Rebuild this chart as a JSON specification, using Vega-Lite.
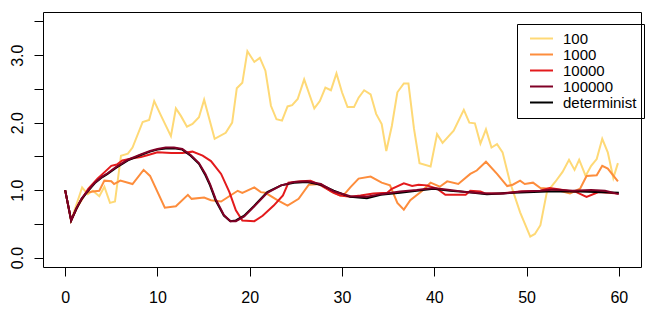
{
  "$schema": "https://vega.github.io/schema/vega-lite/v6.json",
  "width": 598,
  "height": 255,
  "autosize": {"type": "none"},
  "padding": {"left": 43, "top": 12, "right": 10, "bottom": 48},
  "background": "white",
  "config": {
    "view": {"stroke": "black", "strokeWidth": 1},
    "axis": {"domain": false, "grid": false, "tickColor": "black", "tickSize": 9, "tickWidth": 1, "labelColor": "black", "labelFont": "Liberation Sans", "labelFontSize": 16, "title": null},
    "legend": {"labelFont": "Liberation Sans", "labelFontSize": 15, "labelColor": "black", "labelLimit": 200}
  },
  "data": {"values": [
    {"n":"100","t":0,"v":1.0},{"n":"100","t":0.65,"v":0.55},{"n":"100","t":1.84,"v":1.04},{"n":"100","t":2.45,"v":0.94},{"n":"100","t":3.0,"v":0.99},{"n":"100","t":3.7,"v":0.91},{"n":"100","t":4.25,"v":1.05},{"n":"100","t":4.86,"v":0.81},{"n":"100","t":5.4,"v":0.83},{"n":"100","t":6.05,"v":1.51},{"n":"100","t":6.8,"v":1.54},{"n":"100","t":7.3,"v":1.63},{"n":"100","t":8.4,"v":2.01},{"n":"100","t":9.1,"v":2.04},{"n":"100","t":9.65,"v":2.32},{"n":"100","t":10.4,"v":2.10},{"n":"100","t":11.46,"v":1.80},{"n":"100","t":12.0,"v":2.21},{"n":"100","t":12.54,"v":2.10},{"n":"100","t":13.2,"v":1.94},{"n":"100","t":13.8,"v":1.98},{"n":"100","t":14.5,"v":2.08},{"n":"100","t":15.06,"v":2.34},{"n":"100","t":16.2,"v":1.76},{"n":"100","t":17.4,"v":1.85},{"n":"100","t":18.1,"v":2.0},{"n":"100","t":18.6,"v":2.51},{"n":"100","t":19.2,"v":2.59},{"n":"100","t":19.75,"v":3.06},{"n":"100","t":20.5,"v":2.90},{"n":"100","t":21.1,"v":2.96},{"n":"100","t":21.7,"v":2.77},{"n":"100","t":22.3,"v":2.25},{"n":"100","t":22.9,"v":2.05},{"n":"100","t":23.5,"v":2.03},{"n":"100","t":24.1,"v":2.24},{"n":"100","t":24.6,"v":2.26},{"n":"100","t":25.2,"v":2.35},{"n":"100","t":25.9,"v":2.64},{"n":"100","t":27.0,"v":2.21},{"n":"100","t":27.6,"v":2.32},{"n":"100","t":28.2,"v":2.52},{"n":"100","t":28.8,"v":2.48},{"n":"100","t":29.4,"v":2.73},{"n":"100","t":30.0,"v":2.45},{"n":"100","t":30.6,"v":2.23},{"n":"100","t":31.3,"v":2.23},{"n":"100","t":31.8,"v":2.37},{"n":"100","t":32.4,"v":2.48},{"n":"100","t":33.1,"v":2.42},{"n":"100","t":33.7,"v":2.13},{"n":"100","t":34.3,"v":1.98},{"n":"100","t":34.8,"v":1.58},{"n":"100","t":35.4,"v":1.95},{"n":"100","t":36.0,"v":2.45},{"n":"100","t":36.7,"v":2.58},{"n":"100","t":37.2,"v":2.58},{"n":"100","t":37.8,"v":1.91},{"n":"100","t":38.4,"v":1.40},{"n":"100","t":39.6,"v":1.35},{"n":"100","t":40.3,"v":1.83},{"n":"100","t":40.9,"v":1.70},{"n":"100","t":42.1,"v":1.88},{"n":"100","t":43.2,"v":2.19},{"n":"100","t":43.8,"v":2.0},{"n":"100","t":44.4,"v":1.99},{"n":"100","t":45.0,"v":1.69},{"n":"100","t":45.6,"v":1.90},{"n":"100","t":46.2,"v":1.63},{"n":"100","t":46.8,"v":1.68},{"n":"100","t":47.4,"v":1.56},{"n":"100","t":48.2,"v":1.12},{"n":"100","t":49.3,"v":0.67},{"n":"100","t":50.4,"v":0.31},{"n":"100","t":50.9,"v":0.35},{"n":"100","t":51.5,"v":0.48},{"n":"100","t":52.2,"v":0.97},{"n":"100","t":53.1,"v":1.12},{"n":"100","t":53.9,"v":1.27},{"n":"100","t":54.6,"v":1.45},{"n":"100","t":55.2,"v":1.30},{"n":"100","t":55.7,"v":1.45},{"n":"100","t":56.4,"v":1.21},{"n":"100","t":57.0,"v":1.36},{"n":"100","t":57.6,"v":1.46},{"n":"100","t":58.2,"v":1.76},{"n":"100","t":58.8,"v":1.56},{"n":"100","t":59.4,"v":1.18},{"n":"100","t":59.9,"v":1.40},
    {"n":"1000","t":0,"v":1.0},{"n":"1000","t":0.65,"v":0.55},{"n":"1000","t":1.2,"v":0.72},{"n":"1000","t":2.27,"v":0.96},{"n":"1000","t":3.0,"v":0.98},{"n":"1000","t":3.7,"v":0.99},{"n":"1000","t":4.25,"v":1.14},{"n":"1000","t":5.0,"v":1.13},{"n":"1000","t":5.3,"v":1.09},{"n":"1000","t":5.98,"v":1.14},{"n":"1000","t":7.3,"v":1.09},{"n":"1000","t":8.5,"v":1.30},{"n":"1000","t":9.2,"v":1.21},{"n":"1000","t":10.8,"v":0.74},{"n":"1000","t":12.0,"v":0.76},{"n":"1000","t":13.3,"v":0.93},{"n":"1000","t":13.7,"v":0.87},{"n":"1000","t":15.06,"v":0.89},{"n":"1000","t":15.8,"v":0.85},{"n":"1000","t":16.9,"v":0.83},{"n":"1000","t":18.7,"v":0.99},{"n":"1000","t":19.2,"v":0.96},{"n":"1000","t":20.5,"v":1.04},{"n":"1000","t":21.2,"v":0.97},{"n":"1000","t":21.7,"v":0.96},{"n":"1000","t":23.0,"v":0.85},{"n":"1000","t":24.1,"v":0.77},{"n":"1000","t":25.3,"v":0.87},{"n":"1000","t":26.4,"v":1.08},{"n":"1000","t":27.7,"v":1.09},{"n":"1000","t":28.8,"v":0.98},{"n":"1000","t":29.8,"v":0.92},{"n":"1000","t":30.2,"v":0.93},{"n":"1000","t":30.9,"v":1.04},{"n":"1000","t":31.8,"v":1.17},{"n":"1000","t":33.1,"v":1.20},{"n":"1000","t":34.3,"v":1.11},{"n":"1000","t":35.2,"v":1.07},{"n":"1000","t":36.0,"v":0.81},{"n":"1000","t":36.7,"v":0.71},{"n":"1000","t":37.4,"v":0.85},{"n":"1000","t":38.7,"v":0.99},{"n":"1000","t":39.6,"v":1.11},{"n":"1000","t":40.6,"v":1.05},{"n":"1000","t":41.4,"v":1.13},{"n":"1000","t":42.6,"v":1.09},{"n":"1000","t":43.9,"v":1.24},{"n":"1000","t":44.6,"v":1.29},{"n":"1000","t":45.6,"v":1.42},{"n":"1000","t":46.8,"v":1.24},{"n":"1000","t":47.9,"v":1.06},{"n":"1000","t":48.5,"v":1.08},{"n":"1000","t":49.3,"v":1.14},{"n":"1000","t":49.8,"v":1.09},{"n":"1000","t":50.7,"v":1.11},{"n":"1000","t":51.5,"v":1.03},{"n":"1000","t":52.5,"v":1.02},{"n":"1000","t":53.6,"v":0.99},{"n":"1000","t":54.7,"v":0.95},{"n":"1000","t":55.8,"v":1.02},{"n":"1000","t":56.5,"v":1.21},{"n":"1000","t":57.6,"v":1.22},{"n":"1000","t":58.2,"v":1.36},{"n":"1000","t":58.8,"v":1.32},{"n":"1000","t":59.9,"v":1.13},
    {"n":"10000","t":0,"v":1.0},{"n":"10000","t":0.65,"v":0.55},{"n":"10000","t":1.5,"v":0.80},{"n":"10000","t":2.5,"v":1.02},{"n":"10000","t":3.5,"v":1.17},{"n":"10000","t":4.3,"v":1.27},{"n":"10000","t":5.0,"v":1.36},{"n":"10000","t":5.6,"v":1.38},{"n":"10000","t":6.2,"v":1.44},{"n":"10000","t":7.2,"v":1.47},{"n":"10000","t":8.2,"v":1.49},{"n":"10000","t":9.0,"v":1.52},{"n":"10000","t":10.0,"v":1.56},{"n":"10000","t":11.5,"v":1.55},{"n":"10000","t":12.7,"v":1.55},{"n":"10000","t":13.8,"v":1.57},{"n":"10000","t":14.9,"v":1.51},{"n":"10000","t":15.8,"v":1.43},{"n":"10000","t":16.9,"v":1.24},{"n":"10000","t":17.8,"v":0.97},{"n":"10000","t":18.5,"v":0.70},{"n":"10000","t":19.2,"v":0.55},{"n":"10000","t":20.5,"v":0.54},{"n":"10000","t":21.4,"v":0.62},{"n":"10000","t":22.6,"v":0.77},{"n":"10000","t":23.6,"v":0.92},{"n":"10000","t":24.2,"v":1.11},{"n":"10000","t":25.5,"v":1.13},{"n":"10000","t":26.6,"v":1.14},{"n":"10000","t":27.7,"v":1.07},{"n":"10000","t":29.1,"v":0.96},{"n":"10000","t":29.8,"v":0.92},{"n":"10000","t":30.9,"v":0.90},{"n":"10000","t":32.0,"v":0.92},{"n":"10000","t":33.4,"v":0.95},{"n":"10000","t":34.9,"v":0.96},{"n":"10000","t":35.4,"v":1.02},{"n":"10000","t":36.7,"v":1.10},{"n":"10000","t":37.6,"v":1.06},{"n":"10000","t":38.3,"v":1.08},{"n":"10000","t":39.2,"v":1.07},{"n":"10000","t":40.3,"v":1.02},{"n":"10000","t":41.2,"v":0.93},{"n":"10000","t":43.4,"v":0.93},{"n":"10000","t":43.9,"v":0.99},{"n":"10000","t":45.0,"v":0.98},{"n":"10000","t":45.5,"v":0.95},{"n":"10000","t":47.1,"v":0.95},{"n":"10000","t":49.3,"v":0.98},{"n":"10000","t":51.5,"v":0.99},{"n":"10000","t":52.5,"v":1.03},{"n":"10000","t":53.6,"v":1.01},{"n":"10000","t":55.4,"v":0.97},{"n":"10000","t":56.5,"v":0.90},{"n":"10000","t":57.8,"v":0.97},{"n":"10000","t":59.9,"v":0.95},
    {"n":"determinist","t":0,"v":1.0},{"n":"determinist","t":0.65,"v":0.55},{"n":"determinist","t":1.2,"v":0.72},{"n":"determinist","t":1.8,"v":0.87},{"n":"determinist","t":2.45,"v":0.98},{"n":"determinist","t":3.2,"v":1.10},{"n":"determinist","t":4.0,"v":1.19},{"n":"determinist","t":4.6,"v":1.24},{"n":"determinist","t":5.5,"v":1.33},{"n":"determinist","t":6.8,"v":1.44},{"n":"determinist","t":8.2,"v":1.52},{"n":"determinist","t":9.2,"v":1.57},{"n":"determinist","t":10.0,"v":1.60},{"n":"determinist","t":10.9,"v":1.615},{"n":"determinist","t":11.8,"v":1.62},{"n":"determinist","t":12.7,"v":1.60},{"n":"determinist","t":13.6,"v":1.51},{"n":"determinist","t":14.5,"v":1.39},{"n":"determinist","t":15.2,"v":1.22},{"n":"determinist","t":15.7,"v":1.07},{"n":"determinist","t":16.3,"v":0.85},{"n":"determinist","t":17.2,"v":0.62},{"n":"determinist","t":17.9,"v":0.54},{"n":"determinist","t":18.5,"v":0.55},{"n":"determinist","t":19.4,"v":0.62},{"n":"determinist","t":20.5,"v":0.77},{"n":"determinist","t":21.9,"v":0.97},{"n":"determinist","t":23.4,"v":1.07},{"n":"determinist","t":24.8,"v":1.11},{"n":"determinist","t":26.2,"v":1.12},{"n":"determinist","t":27.7,"v":1.08},{"n":"determinist","t":29.1,"v":0.99},{"n":"determinist","t":30.9,"v":0.90},{"n":"determinist","t":32.7,"v":0.88},{"n":"determinist","t":34.2,"v":0.93},{"n":"determinist","t":36.3,"v":0.96},{"n":"determinist","t":38.1,"v":0.99},{"n":"determinist","t":39.9,"v":1.02},{"n":"determinist","t":41.7,"v":0.99},{"n":"determinist","t":43.5,"v":0.97},{"n":"determinist","t":45.7,"v":0.94},{"n":"determinist","t":48.6,"v":0.96},{"n":"determinist","t":52.2,"v":0.98},{"n":"determinist","t":55.8,"v":0.98},{"n":"determinist","t":60,"v":0.96},
    {"n":"100000","t":0,"v":1.0},{"n":"100000","t":0.65,"v":0.55},{"n":"100000","t":1.2,"v":0.73},{"n":"100000","t":1.8,"v":0.88},{"n":"100000","t":2.45,"v":0.99},{"n":"100000","t":3.2,"v":1.11},{"n":"100000","t":4.0,"v":1.20},{"n":"100000","t":4.6,"v":1.25},{"n":"100000","t":5.5,"v":1.34},{"n":"100000","t":6.8,"v":1.45},{"n":"100000","t":8.2,"v":1.53},{"n":"100000","t":9.2,"v":1.58},{"n":"100000","t":10.0,"v":1.61},{"n":"100000","t":10.9,"v":1.63},{"n":"100000","t":11.8,"v":1.63},{"n":"100000","t":12.7,"v":1.61},{"n":"100000","t":13.6,"v":1.52},{"n":"100000","t":14.5,"v":1.40},{"n":"100000","t":15.2,"v":1.24},{"n":"100000","t":15.7,"v":1.09},{"n":"100000","t":16.3,"v":0.87},{"n":"100000","t":17.2,"v":0.63},{"n":"100000","t":17.9,"v":0.54},{"n":"100000","t":18.5,"v":0.54},{"n":"100000","t":19.4,"v":0.61},{"n":"100000","t":20.5,"v":0.76},{"n":"100000","t":21.9,"v":0.96},{"n":"100000","t":23.4,"v":1.07},{"n":"100000","t":24.8,"v":1.12},{"n":"100000","t":26.2,"v":1.13},{"n":"100000","t":27.7,"v":1.09},{"n":"100000","t":29.1,"v":0.98},{"n":"100000","t":30.9,"v":0.91},{"n":"100000","t":32.7,"v":0.90},{"n":"100000","t":34.2,"v":0.94},{"n":"100000","t":36.3,"v":0.98},{"n":"100000","t":38.1,"v":1.00},{"n":"100000","t":39.9,"v":1.03},{"n":"100000","t":41.7,"v":1.00},{"n":"100000","t":43.5,"v":0.97},{"n":"100000","t":45.7,"v":0.95},{"n":"100000","t":47.5,"v":0.95},{"n":"100000","t":49.5,"v":0.98},{"n":"100000","t":51.5,"v":0.99},{"n":"100000","t":53.0,"v":1.01},{"n":"100000","t":55.0,"v":0.99},{"n":"100000","t":57.0,"v":1.00},{"n":"100000","t":58.5,"v":0.99},{"n":"100000","t":60,"v":0.94}
  ]},
  "mark": {"type": "line", "strokeWidth": 2, "clip": true},
  "encoding": {
    "x": {"field": "t", "type": "quantitative", "scale": {"domain": [-2.4, 62.4], "nice": false, "zero": false},
      "axis": {"values": [0, 10, 20, 30, 40, 50, 60], "labelPadding": 13, "labelFlush": false, "labelOverlap": false}},
    "y": {"field": "v", "type": "quantitative", "scale": {"domain": [-0.14, 3.64], "nice": false, "zero": false},
      "axis": {"values": [0, 0.5, 1, 1.5, 2, 2.5, 3, 3.5], "labelExpr": "datum.value % 1 == 0 ? format(datum.value, '.1f') : ''", "labelAngle": -90, "labelAlign": "center", "labelBaseline": "alphabetic", "labelPadding": 12, "labelFlush": false, "labelOverlap": false}},
    "color": {"field": "n", "type": "nominal",
      "scale": {"domain": ["100", "1000", "10000", "100000", "determinist"], "range": ["#FED976", "#FD8D3C", "#E31A1C", "#800026", "#000000"]},
      "legend": {"orient": "none", "legendX": 474, "legendY": 12, "title": null, "symbolType": "M-0.23,0H3.31", "symbolSize": 169, "symbolStrokeWidth": 2, "labelFont": "Liberation Sans", "labelFontSize": 15, "labelColor": "black", "labelOffset": 24, "padding": 7, "rowPadding": 0, "strokeColor": "black", "labelBaseline": "middle"}}
  }
}
